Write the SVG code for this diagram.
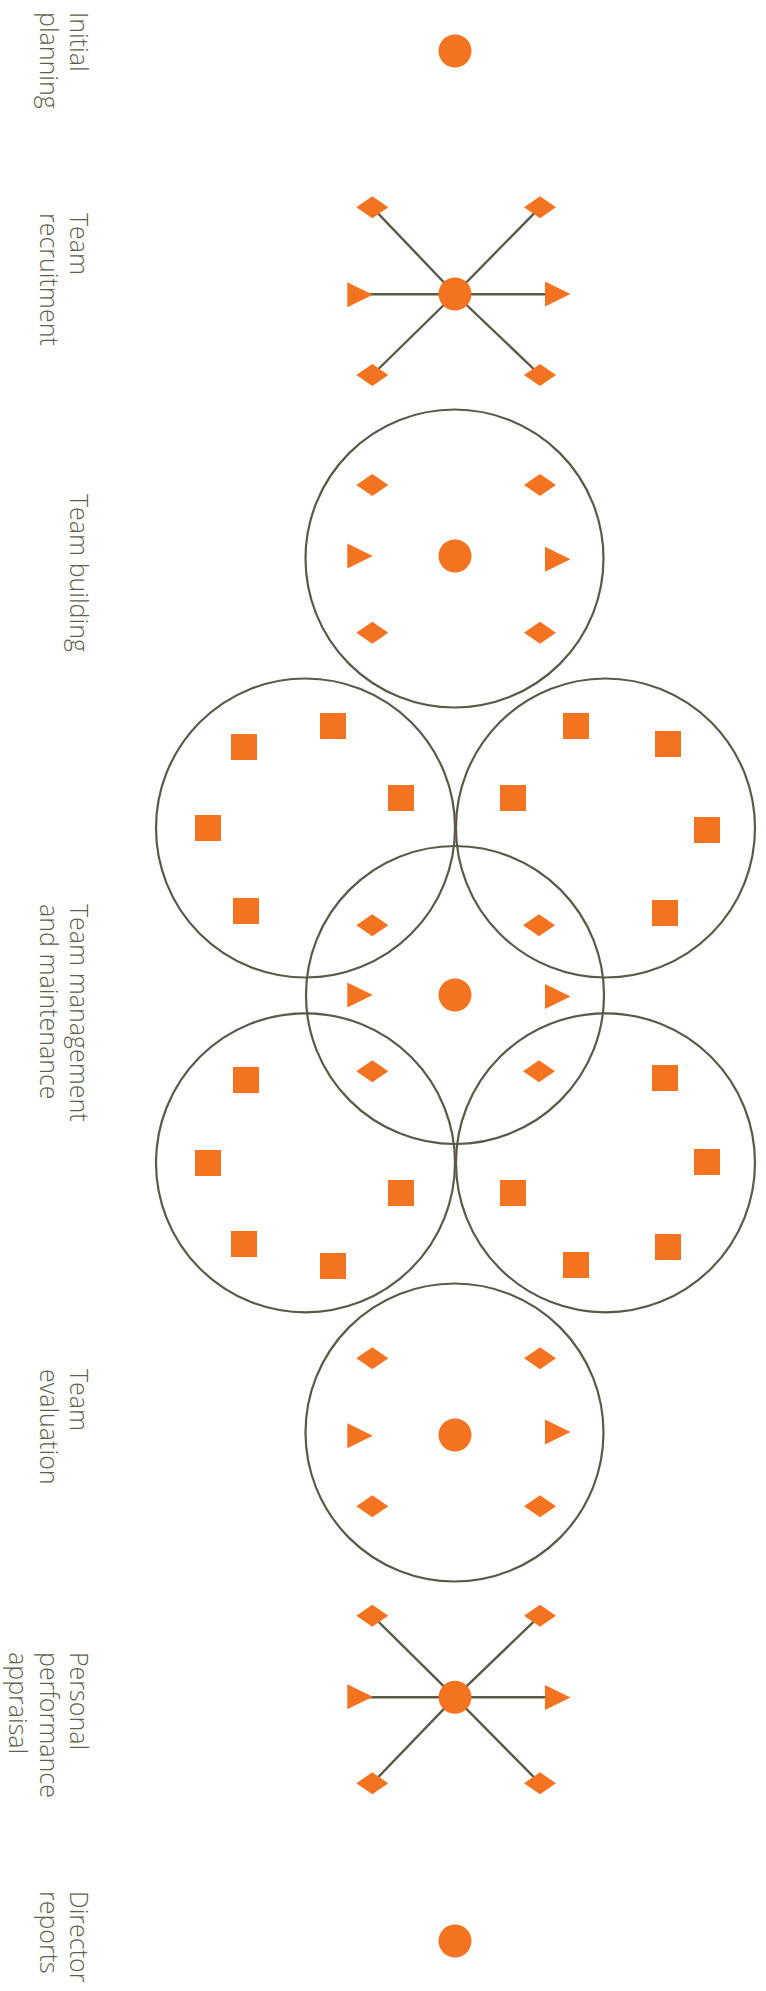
<svg xmlns="http://www.w3.org/2000/svg" xmlns:xlink="http://www.w3.org/1999/xlink" width="766" height="1991" viewBox="0 0 766 1991">
<style>
.lbl{font-family:"Open Sans","Noto Sans","Liberation Sans",sans-serif;font-weight:300;font-size:25px;fill:#5e5f4c}
.ring{fill:none;stroke:#5b5948;stroke-width:2.2}
.con{stroke:#5b5948;stroke-width:2.4;fill:none}
.sh{fill:#f47321}
</style>
<defs>
<polygon id="dia" class="sh" points="-16,0 0,-11 16,0 0,11"/>
<polygon id="tri" class="sh" points="0,-12.5 25.5,0 0,12.5"/>
<rect id="sq" class="sh" x="-13" y="-13" width="26" height="26"/>
<circle id="dot" class="sh" r="16.5"/>
</defs>
<rect width="766" height="1991" fill="#ffffff"/>

<g id="labels">
<text class="lbl" transform="translate(70,12) rotate(90)"><tspan x="0" y="0">Initial</tspan><tspan x="0" y="30">planning</tspan></text>
<text class="lbl" transform="translate(70,213) rotate(90)"><tspan x="0" y="0">Team</tspan><tspan x="0" y="30">recruitment</tspan></text>
<text class="lbl" transform="translate(70,494) rotate(90)"><tspan x="0" y="0">Team building</tspan></text>
<text class="lbl" transform="translate(70,904) rotate(90)"><tspan x="0" y="0">Team management</tspan><tspan x="0" y="30">and maintenance</tspan></text>
<text class="lbl" transform="translate(70,1369) rotate(90)"><tspan x="0" y="0">Team</tspan><tspan x="0" y="30">evaluation</tspan></text>
<text class="lbl" transform="translate(70,1652) rotate(90)"><tspan x="0" y="0">Personal</tspan><tspan x="0" y="30.5">performance</tspan><tspan x="0" y="61">appraisal</tspan></text>
<text class="lbl" transform="translate(70,1891) rotate(90)"><tspan x="0" y="0">Director</tspan><tspan x="0" y="30">reports</tspan></text>
</g>

<g id="connectors">
<line class="con" x1="455" y1="294" x2="372.3" y2="207.3"/>
<line class="con" x1="455" y1="294" x2="540" y2="207.3"/>
<line class="con" x1="455" y1="294" x2="372.3" y2="375"/>
<line class="con" x1="455" y1="294" x2="540" y2="375"/>
<line class="con" x1="455" y1="294.3" x2="360" y2="294.3"/>
<line class="con" x1="455" y1="294.3" x2="555" y2="294.3"/>
<line class="con" x1="455" y1="1697.3" x2="372.3" y2="1615.7"/>
<line class="con" x1="455" y1="1697.3" x2="540" y2="1615.7"/>
<line class="con" x1="455" y1="1697.3" x2="372.3" y2="1783.3"/>
<line class="con" x1="455" y1="1697.3" x2="540" y2="1783.3"/>
<line class="con" x1="455" y1="1697.2" x2="360" y2="1697.2"/>
<line class="con" x1="455" y1="1697.2" x2="555" y2="1697.2"/>
</g>

<g id="node-initial-planning">
<use xlink:href="#dot" x="455" y="51"/>
</g>

<g id="node-team-recruitment">
<use xlink:href="#dot" x="455" y="294"/>
<use xlink:href="#dia" x="372.3" y="207.3"/>
<use xlink:href="#dia" x="540" y="207.3"/>
<use xlink:href="#dia" x="372.3" y="375"/>
<use xlink:href="#dia" x="540" y="375"/>
<use xlink:href="#tri" x="347.3" y="294.7"/>
<use xlink:href="#tri" x="545" y="294"/>
</g>

<g id="node-team-building">
<circle class="ring" cx="454.5" cy="558.5" r="149"/>
<use xlink:href="#dot" x="455" y="556"/>
<use xlink:href="#dia" x="372.3" y="485"/>
<use xlink:href="#dia" x="540" y="485"/>
<use xlink:href="#dia" x="372.3" y="632.7"/>
<use xlink:href="#dia" x="540" y="632.7"/>
<use xlink:href="#tri" x="347.3" y="556"/>
<use xlink:href="#tri" x="545" y="559.3"/>
</g>

<g id="node-management-upper-left">
<circle class="ring" cx="305.5" cy="828" r="149.5"/>
<use xlink:href="#sq" x="244" y="747"/>
<use xlink:href="#sq" x="333" y="726"/>
<use xlink:href="#sq" x="401" y="798"/>
<use xlink:href="#sq" x="208" y="828"/>
<use xlink:href="#sq" x="246" y="911"/>
</g>

<g id="node-management-upper-right">
<circle class="ring" cx="605.5" cy="828" r="149.5"/>
<use xlink:href="#sq" x="576" y="726"/>
<use xlink:href="#sq" x="668" y="744"/>
<use xlink:href="#sq" x="513" y="798"/>
<use xlink:href="#sq" x="707" y="830"/>
<use xlink:href="#sq" x="665" y="913"/>
</g>

<g id="node-management-lower-left">
<circle class="ring" cx="305.5" cy="1162.8" r="149.5"/>
<use xlink:href="#sq" x="246" y="1080"/>
<use xlink:href="#sq" x="208" y="1163"/>
<use xlink:href="#sq" x="401" y="1193"/>
<use xlink:href="#sq" x="244" y="1244"/>
<use xlink:href="#sq" x="333" y="1266"/>
</g>

<g id="node-management-lower-right">
<circle class="ring" cx="605.5" cy="1162.8" r="149.5"/>
<use xlink:href="#sq" x="665" y="1078"/>
<use xlink:href="#sq" x="707" y="1162"/>
<use xlink:href="#sq" x="513" y="1193"/>
<use xlink:href="#sq" x="668" y="1247"/>
<use xlink:href="#sq" x="576" y="1265"/>
</g>

<g id="node-management-center">
<circle class="ring" cx="455" cy="995" r="149"/>
<use xlink:href="#dot" x="455" y="995"/>
<use xlink:href="#dia" x="372.3" y="925.3"/>
<use xlink:href="#dia" x="539" y="925.3"/>
<use xlink:href="#dia" x="372.3" y="1071.3"/>
<use xlink:href="#dia" x="539" y="1071.3"/>
<use xlink:href="#tri" x="347.3" y="995"/>
<use xlink:href="#tri" x="545" y="996.5"/>
</g>

<g id="node-team-evaluation">
<circle class="ring" cx="454.5" cy="1432.5" r="149"/>
<use xlink:href="#dot" x="455" y="1435"/>
<use xlink:href="#dia" x="372.3" y="1358.3"/>
<use xlink:href="#dia" x="540" y="1358.3"/>
<use xlink:href="#dia" x="372.3" y="1506.3"/>
<use xlink:href="#dia" x="540" y="1506.3"/>
<use xlink:href="#tri" x="347.3" y="1435.7"/>
<use xlink:href="#tri" x="545" y="1432"/>
</g>

<g id="node-performance-appraisal">
<use xlink:href="#dot" x="455" y="1697.3"/>
<use xlink:href="#dia" x="372.3" y="1615.7"/>
<use xlink:href="#dia" x="540" y="1615.7"/>
<use xlink:href="#dia" x="372.3" y="1783.3"/>
<use xlink:href="#dia" x="540" y="1783.3"/>
<use xlink:href="#tri" x="347.3" y="1696.7"/>
<use xlink:href="#tri" x="545" y="1697.5"/>
</g>

<g id="node-director-reports">
<use xlink:href="#dot" x="455" y="1941"/>
</g>
</svg>
